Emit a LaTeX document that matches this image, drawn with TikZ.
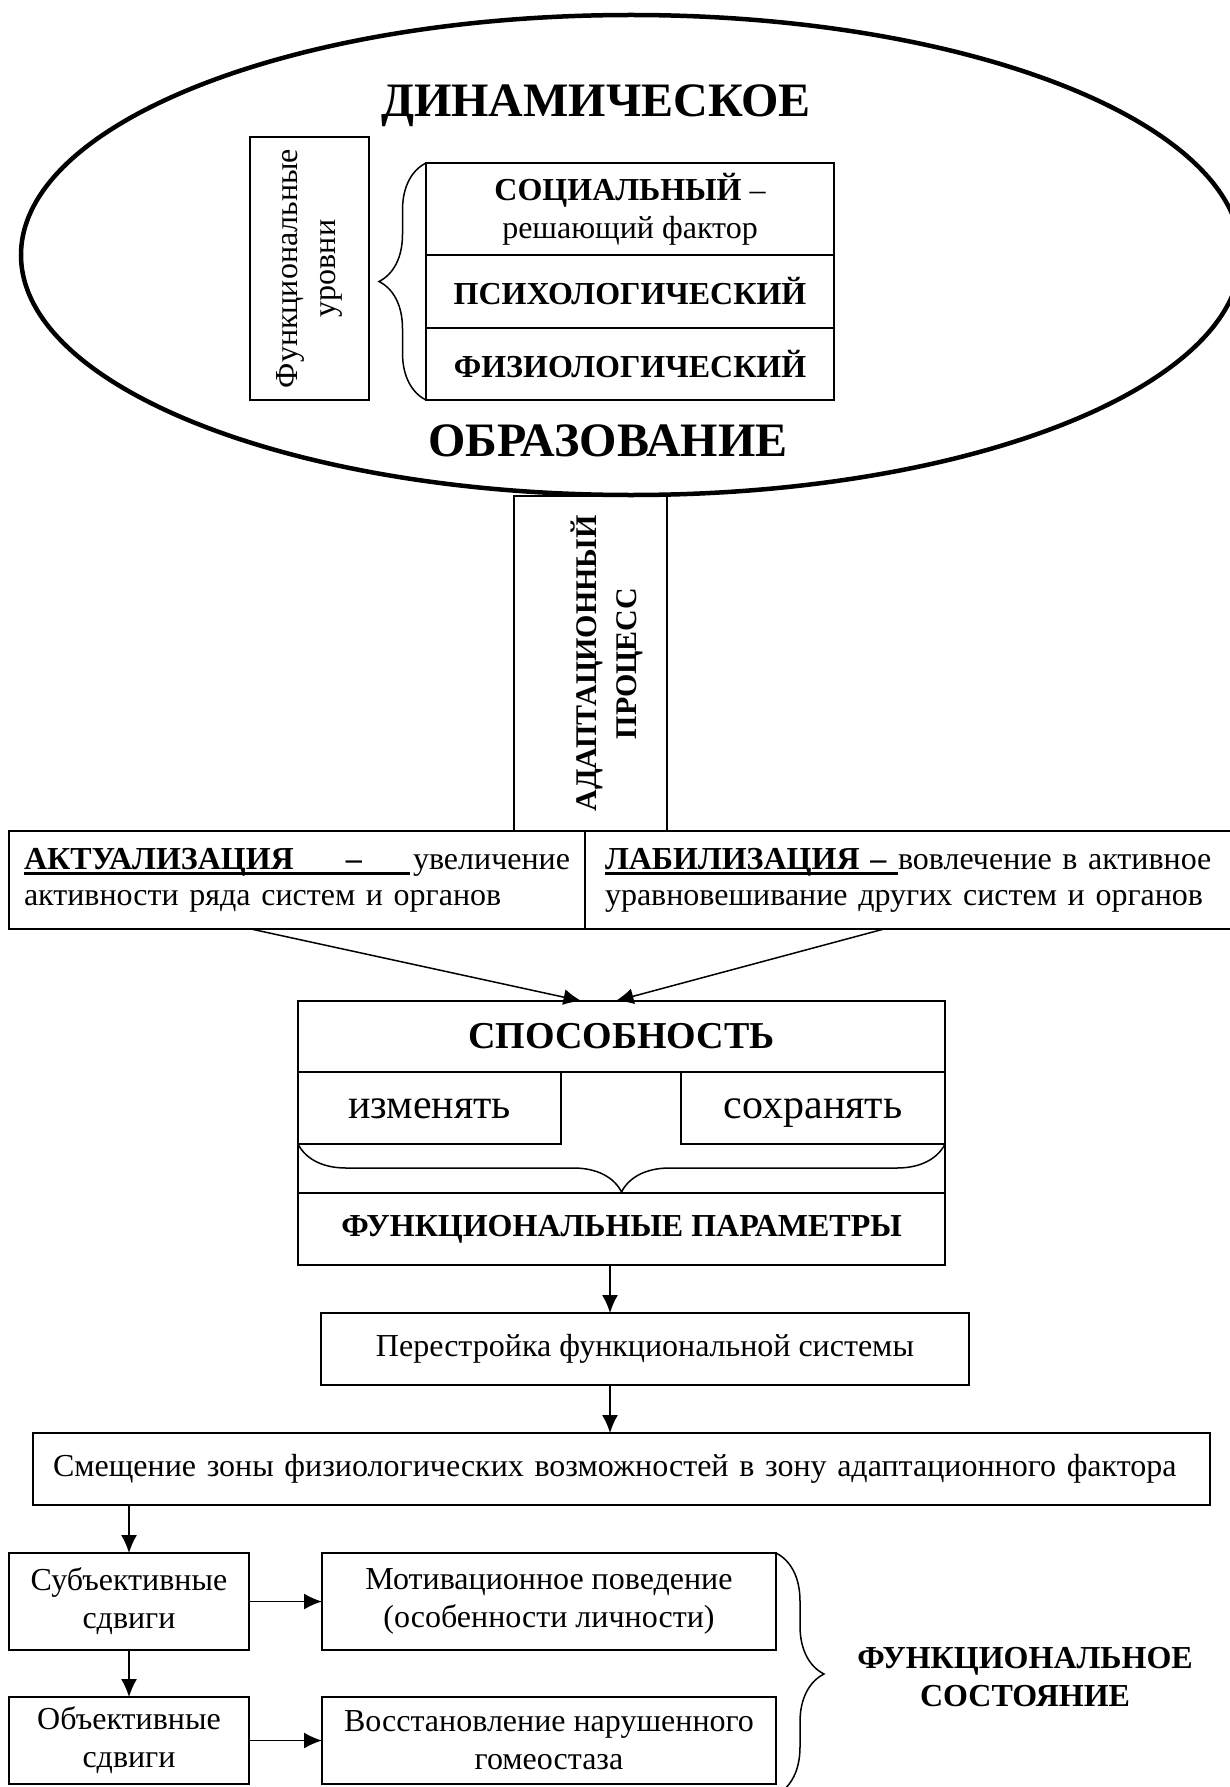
\documentclass[tikz,border=0pt]{standalone}
\usepackage{fontspec}
\setmainfont{Liberation Serif}
\usetikzlibrary{positioning,arrows.meta,decorations.pathreplacing}
\newcommand{\undbar}[2]{\rlap{\rule[-6pt]{#1}{3pt}}\makebox[#1][l]{#2}}

\begin{document}
\begin{tikzpicture}[
	x=1pt, y=-1pt,
	every node/.style={font=\fontsize{32}{38}\selectfont, inner sep=0pt, align=center},
	box/.style={draw, line width=1.5pt, outer sep=0pt},
	head/.style={font=\fontsize{48}{56}\selectfont\bfseries},
	bold/.style={font=\fontsize{32}{38}\selectfont\bfseries},
	big/.style={font=\fontsize{42}{48}\selectfont, text height=30pt, text depth=10pt},
	arr/.style={line width=1.5pt, -{Latex[length=18pt,width=16pt]}},
	brc/.style={line width=1.5pt, decorate, decoration={brace, amplitude=#1}},
	brc/.default=48pt
]

\useasboundingbox (0,0) rectangle (1230,1787);

\draw[line width=4.5pt] (631,255) ellipse [x radius=610, y radius=240];
\node[head] (dyn) at (596,106) {ДИНАМИЧЕСКОЕ};
\node[head] (obr) at (608,441) {ОБРАЗОВАНИЕ};

\node[box, rotate=90, minimum width=263pt, minimum height=119pt] (funk) at (309.5,268.5) {Функциональные\\уровни};
\node[box, minimum width=408pt, minimum height=92pt] (soc) at (630,209) {\textbf{СОЦИАЛЬНЫЙ} –\\решающий фактор};
\node[box, bold, minimum width=408pt, minimum height=73pt, below=0pt of soc] (psy) {ПСИХОЛОГИЧЕСКИЙ};
\node[box, bold, minimum width=408pt, minimum height=72pt, below=0pt of psy] (phys) {ФИЗИОЛОГИЧЕСКИЙ};
\draw[brc=47pt] (phys.south west) -- (soc.north west);

\node[box, minimum width=153pt, minimum height=335pt] (adapt) at (590.5,663.5) {};
\node[rotate=90, font=\fontsize{30}{40}\selectfont\bfseries] (adapttxt) at ([xshift=16pt]adapt.center) {АДАПТАЦИОННЫЙ\\ПРОЦЕСС};

\node[box, minimum width=576pt, minimum height=98pt, text width=546pt, align=left, font=\fontsize{32}{36}\selectfont] (akt) at (297,880)
	{\undbar{386pt}{\bfseries АКТУАЛИЗАЦИЯ\hfill–\hspace{48pt}}\hfill увеличение\\активности ряда систем и органов};
\node[box, minimum width=646pt, minimum height=98pt, text width=606pt, align=left, font=\fontsize{32}{36}\selectfont] (lab) at (908,880)
	{\makebox[606pt][s]{\undbar{293pt}{\bfseries ЛАБИЛИЗАЦИЯ –}вовлечение в активное}\\уравновешивание других систем и органов};

\node[box, minimum width=647pt, minimum height=71pt, font=\fontsize{38}{44}\selectfont\bfseries] (sposob) at (621.5,1036.5) {СПОСОБНОСТЬ};
\node[box, big, anchor=north west, minimum width=263pt, minimum height=72pt] (izm) at (sposob.south west) {изменять};
\node[box, big, anchor=north east, minimum width=264pt, minimum height=72pt] (sohr) at (sposob.south east) {сохранять};
\node[box, bold, minimum width=647pt, minimum height=72pt] (fp) at (621.5,1229) {ФУНКЦИОНАЛЬНЫЕ ПАРАМЕТРЫ};
\draw[line width=1.5pt] (izm.south west) -- (fp.north west) (sohr.south east) -- (fp.north east);
\draw[brc] (sohr.south east) -- (izm.south west);

\node[box, minimum width=648pt, minimum height=72pt] (per) at (645,1349) {Перестройка функциональной системы};
\node[box, minimum width=1177pt, minimum height=72pt, text width=1137pt, align=left] (smesh) at (621.5,1469) {Смещение зоны физиологических возможностей в зону адаптационного фактора};

\node[box, minimum width=240pt, minimum height=97pt] (subj) at (129,1601.5) {Субъективные\\сдвиги};
\node[box, minimum width=454pt, minimum height=97pt] (motiv) at (549,1601.5) {Мотивационное поведение\\(особенности личности)};
\node[box, minimum width=240pt, minimum height=87pt] (obj) at (129,1740.5) {Объективные\\сдвиги};
\node[box, minimum width=454pt, minimum height=87pt] (vosst) at (549,1740.5) {Восстановление нарушенного\\гомеостаза};
\coordinate (bend) at (776,1795);
\draw[brc] (motiv.north east) -- (bend);
\node[bold] (sost) at (1025,1677) {ФУНКЦИОНАЛЬНОЕ\\СОСТОЯНИЕ};

\draw[arr] ([xshift=-46pt]akt.south) -- ([xshift=-40pt]sposob.north);
\draw[arr] ([xshift=-24pt]lab.south) -- ([xshift=-6pt]sposob.north);
\draw[arr] ([xshift=-35pt]per.north |- fp.south) -- ([xshift=-35pt]per.north);
\draw[arr] ([xshift=-35pt]per.south) -- ([xshift=-35pt]per.south |- smesh.north);
\draw[arr] (subj.north |- smesh.south) -- (subj.north);
\draw[arr] (subj.east) -- (motiv.west);
\draw[arr] (subj.south) -- (obj.north);
\draw[arr] (obj.east) -- (vosst.west);

\end{tikzpicture}
\end{document}
